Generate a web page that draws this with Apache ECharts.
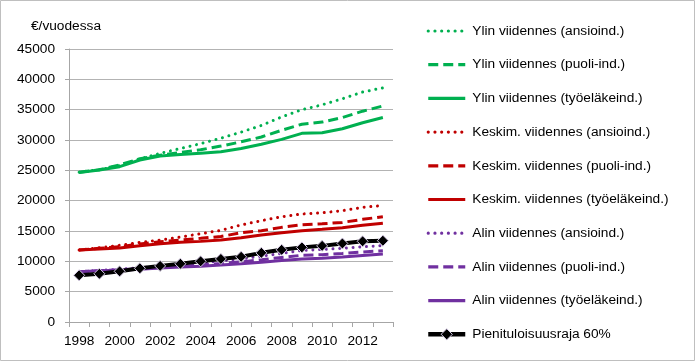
<!DOCTYPE html>
<html><head><meta charset="utf-8">
<script src="https://cdn.jsdelivr.net/npm/echarts@6/dist/echarts.min.js"></script>
<style>html,body{margin:0;padding:0;background:#fff}#c{width:695px;height:361px}</style>
</head><body><div id="c"></div>
<script>
const years = ['1998','1999','2000','2001','2002','2003','2004','2005','2006','2007','2008','2009','2010','2011','2012','2013'];
const ylinAnsio = [24700,25100,25800,26900,27800,28600,29400,30300,31300,32400,33800,35000,35800,36800,37900,38600];
const ylinPuoli = [24700,25100,25900,26900,27500,27950,28400,29000,29700,30500,31600,32600,32950,33700,34750,35600];
const ylinTyo   = [24650,25050,25600,26700,27350,27600,27800,28050,28600,29300,30100,31100,31200,31850,32850,33700];
const keskAnsio = [11860,12240,12640,13130,13510,14000,14550,15100,16000,16700,17350,17800,18000,18350,18900,19200];
const keskPuoli = [11860,12140,12410,12850,13230,13510,13790,14100,14700,15050,15600,16030,16190,16420,16920,17350];
const keskTyo   = [11860,12030,12190,12570,12900,13130,13290,13510,13890,14330,14710,15040,15270,15540,15930,16260];
const alinAnsio = [8300,8500,8700,8950,9200,9450,9750,10050,10400,10850,11300,11800,11950,12150,12400,12600];
const alinPuoli = [8300,8450,8600,8800,9000,9200,9400,9650,9900,10250,10650,11000,11100,11300,11550,11750];
const alinTyo   = [8300,8450,8550,8700,8900,9050,9200,9400,9600,9850,10150,10400,10500,10700,10950,11200];
const raja      = [7700,7950,8350,8850,9250,9600,10000,10400,10750,11400,11900,12300,12550,12950,13300,13400];
const yTicks = [0,5000,10000,15000,20000,25000,30000,35000,40000,45000];

const GREEN='#00b050', RED='#c00000', PURPLE='#7030a0';
const DOT={type:[0.01,6.7], cap:'round'}, DASH={type:[10,5], cap:'butt'}, SOLID={type:'solid', cap:'butt'};
function mk(name, data, color, st){
  return {name, type:'line', data, symbol:'none', smooth:false,
    lineStyle:{color, width:3, type:st.type, cap:st.cap}, itemStyle:{color}, emphasis:{disabled:true}};
}
const series = [
  mk('Ylin viidennes (ansioind.)', ylinAnsio, GREEN, DOT),
  mk('Ylin viidennes (puoli-ind.)', ylinPuoli, GREEN, DASH),
  mk('Ylin viidennes (työeläkeind.)', ylinTyo, GREEN, SOLID),
  mk('Keskim. viidennes (ansioind.)', keskAnsio, RED, DOT),
  mk('Keskim. viidennes (puoli-ind.)', keskPuoli, RED, DASH),
  mk('Keskim. viidennes (työeläkeind.)', keskTyo, RED, SOLID),
  mk('Alin viidennes (ansioind.)', alinAnsio, PURPLE, DOT),
  mk('Alin viidennes (puoli-ind.)', alinPuoli, PURPLE, DASH),
  mk('Alin viidennes (työeläkeind.)', alinTyo, PURPLE, SOLID),
  {name:'Pienituloisuusraja 60%', type:'line', data:raja, symbol:'diamond', symbolSize:11,
   lineStyle:{color:'#000', width:4}, itemStyle:{color:'#000', borderColor:'#d8cce8', borderWidth:1},
   emphasis:{disabled:true}}
];
const legendData = series.map(s => s.symbol === 'none'
  ? {name:s.name, itemStyle:{opacity:0}, lineStyle:{width:3.2}}
  : {name:s.name, lineStyle:{width:4.5}, itemStyle:{borderWidth:1}});
const chart = echarts.init(document.getElementById('c'), null, {renderer:'canvas'});
const FONT='Liberation Sans', FS=13.7;
chart.setOption({
  animation:false,
  backgroundColor:'#fff',
  textStyle:{fontFamily:FONT},
  title:{text:'€/vuodessa', left:31, top:19, padding:0, textStyle:{fontFamily:FONT, fontSize:FS, fontWeight:'normal', color:'#000'}},
  graphic:[{type:'rect', shape:{x:0.5,y:0.5,width:694,height:360}, style:{fill:null, stroke:'#bfbfbf', lineWidth:1}, silent:true}],
  grid:{left:69, top:49, right:302, bottom:39, containLabel:false},
  legend:{data:legendData, orient:'vertical', left:426, top:24, padding:0, itemWidth:37, itemHeight:14, itemGap:19.7,
    textStyle:{fontFamily:FONT, fontSize:FS, color:'#000', padding:[0,0,0,2]}, selectedMode:false},
  xAxis:{type:'category', data:years, boundaryGap:true,
    axisLine:{lineStyle:{color:'#a6a6a6', width:1}},
    axisTick:{show:true, interval:0, length:5, lineStyle:{color:'#a6a6a6'}},
    axisLabel:{interval:1, margin:12, fontFamily:FONT, fontSize:FS, color:'#000'}},
  yAxis:{type:'value', min:yTicks[0], max:yTicks[yTicks.length-1], interval:5000,
    axisLine:{show:true, lineStyle:{color:'#a6a6a6', width:1}},
    axisTick:{show:true, length:4, lineStyle:{color:'#a6a6a6'}},
    splitLine:{lineStyle:{color:'#b3b3b3', width:1}},
    axisLabel:{margin:14, fontFamily:FONT, fontSize:FS, color:'#000', formatter:function(v){return String(v);}}},
  series
});
</script></body></html>
